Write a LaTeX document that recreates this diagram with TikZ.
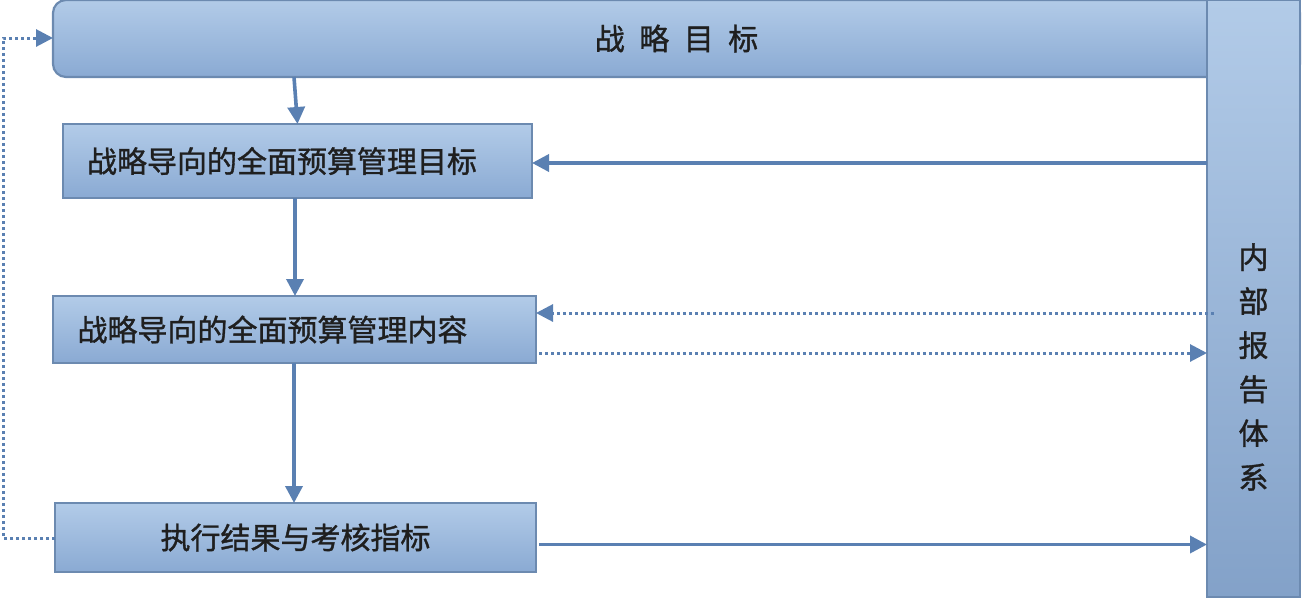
\documentclass[tikz,border=0pt]{standalone}
\usepackage{fontspec}
\newfontfamily\cjk[FakeBold=1.2]{Noto Sans CJK SC}
\usetikzlibrary{arrows.meta,calc}
\definecolor{fillTop}{RGB}{178,203,232}
\definecolor{fillBot}{RGB}{138,170,211}
\definecolor{bordercol}{RGB}{108,138,176}
\definecolor{arrcol}{RGB}{90,128,178}
\tikzset{
  boxstyle/.style={draw=bordercol, line width=2.2pt, top color=fillTop, bottom color=fillBot, inner sep=0pt, outer sep=0pt, font=\cjk\fontsize{30}{34}\selectfont, text=black!88},
  solidarr/.style={draw=arrcol, line width=3.6pt, -{Triangle[length=17pt,width=17pt]}},
  dotarr/.style={draw=arrcol, line width=3pt, dash pattern=on 3pt off 3pt, -{Triangle[length=17pt,width=17pt]}},
}
\begin{document}
\begin{tikzpicture}[x=1pt,y=-1pt]
\useasboundingbox (0,0) rectangle (1302,598);
% top box (extends under the bar)
\node[boxstyle, rounded corners=13pt, minimum width=1247pt, minimum height=77pt, anchor=north west] (goal) at (53,0) {战\hspace{14.5pt}略\hspace{14.5pt}目\hspace{14.5pt}标};
% right bar
\node[boxstyle, top color=fillTop, bottom color=fillBot!95!black, minimum width=93pt, minimum height=597pt, anchor=north west] (bar) at (1207,0) {};
\node[font=\cjk\fontsize{30}{44}\selectfont, align=center, text=black!88, inner sep=0pt] (bartext) at (1253.5,367) {内\\部\\报\\告\\体\\系};
% box 1
\node[boxstyle, minimum width=469pt, minimum height=74pt, text width=421pt, align=left, inner xsep=24pt, anchor=north west] (b1) at (63,124) {战略导向的全面预算管理目标};
% box 2
\node[boxstyle, minimum width=483pt, minimum height=67pt, text width=434pt, align=left, inner xsep=24.5pt, anchor=north west] (b2) at (53,296) {战略导向的全面预算管理内容};
% box 3
\node[boxstyle, minimum width=481pt, minimum height=69pt, anchor=north west] (b3) at (55,503) {执行结果与考核指标};
% coordinates
\coordinate (g1) at ($(goal.south west)+(241,0)$);
\coordinate (d2in) at ($(b2.north east)+(0,17)$);
\coordinate (d2out) at ($(b2.south east)+(3,-10)$);
\coordinate (b3out) at ($(b3.east)+(3,7)$);
\coordinate (lp1) at (3,538);
\coordinate (lp2) at (3,38);
% connectors
\draw[solidarr] (g1) -- (b1.north);
\draw[solidarr] (b1.south -| 295,0) -- (b2.north -| 295,0);
\draw[solidarr] (b2.south -| 294,0) -- (b3.north -| 294,0);
\draw[solidarr] (bar.west |- 0,163) -- (b1.east |- 0,163);
\draw[dotarr] ($(bar.west |- d2in)+(7,0)$) -- (d2in);
\draw[dotarr] (d2out) -- (bar.west |- d2out);
\draw[solidarr] (b3out) -- (bar.west |- b3out);
\draw[dotarr] (b3.west |- lp1) -- (lp1) -- (lp2) -- (goal.west |- lp2);
\end{tikzpicture}
\end{document}
